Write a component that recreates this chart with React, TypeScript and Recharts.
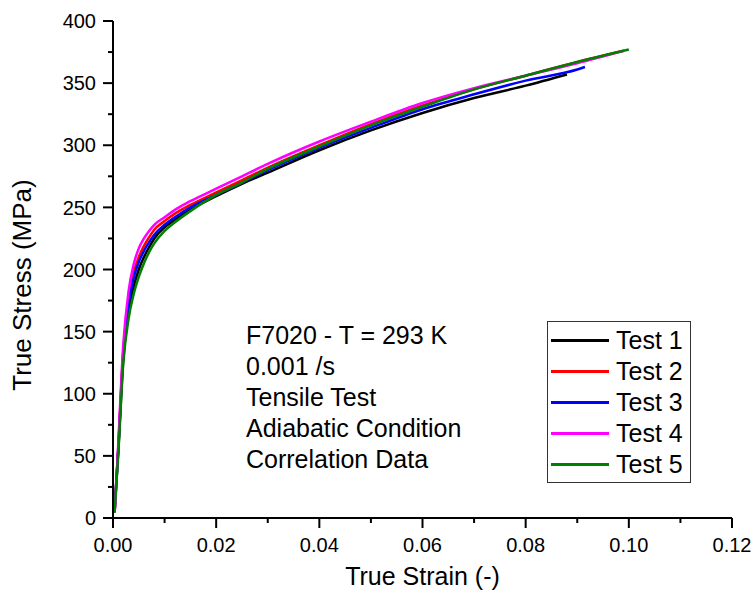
import React from "react";
import { LineChart, Line, XAxis, YAxis, Legend } from "recharts";

// strain / stress readings per test
const strain1 = [0.0003, 0.001, 0.002, 0.003, 0.004, 0.005, 0.006, 0.007, 0.008, 0.01, 0.012, 0.015, 0.02, 0.025, 0.03, 0.04, 0.05, 0.06, 0.07, 0.08, 0.088];
const stress1 = [5, 52, 128, 165, 186, 200, 210, 218, 225, 234, 240, 248, 259, 269, 278, 296, 312, 326, 338, 348, 357];

const strain2 = [0.0003, 0.001, 0.002, 0.003, 0.004, 0.005, 0.006, 0.007, 0.008, 0.01, 0.012, 0.015, 0.02, 0.025, 0.03, 0.04, 0.05, 0.06, 0.07, 0.08, 0.09, 0.099];
const stress2 = [6, 55, 135, 175, 197, 210, 219, 226, 232, 239, 245, 252, 262, 272, 282, 300, 317, 332, 345, 356, 367, 376];

const strain3 = [0.0003, 0.001, 0.002, 0.003, 0.004, 0.005, 0.006, 0.007, 0.008, 0.01, 0.012, 0.015, 0.02, 0.025, 0.03, 0.04, 0.05, 0.06, 0.07, 0.08, 0.09, 0.0915];
const stress3 = [5, 54, 132, 172, 193, 206, 215, 222, 228, 236, 242, 250, 260, 270, 280, 298, 314, 329, 341, 352, 361, 363];

const strain4 = [0.0004, 0.001, 0.002, 0.003, 0.004, 0.005, 0.006, 0.007, 0.008, 0.01, 0.012, 0.015, 0.02, 0.025, 0.03, 0.04, 0.05, 0.06, 0.07, 0.08, 0.09, 0.099];
const stress4 = [7, 58, 140, 182, 204, 217, 225, 231, 236, 242, 248, 255, 265, 275, 285, 303, 319, 334, 346, 356, 366, 376];

const strain5 = [0.0003, 0.001, 0.002, 0.003, 0.004, 0.005, 0.006, 0.007, 0.008, 0.01, 0.012, 0.015, 0.02, 0.025, 0.03, 0.04, 0.05, 0.06, 0.07, 0.08, 0.09, 0.1];
const stress5 = [4, 50, 125, 160, 180, 194, 205, 214, 221, 231, 238, 247, 260, 270, 281, 299, 316, 331, 345, 356, 367, 377];

const xTicks = [0, 0.01, 0.02, 0.03, 0.04, 0.05, 0.06, 0.07, 0.08, 0.09, 0.1, 0.11, 0.12];
const yTicks = [0, 25, 50, 75, 100, 125, 150, 175, 200, 225, 250, 275, 300, 325, 350, 375, 400];

const notes = ["F7020 - T = 293 K", "0.001 /s", "Tensile Test", "Adiabatic Condition", "Correlation Data"];

const toPoints = (xs: number[], ys: number[]) => xs.map((x, i) => ({ strain: x, stress: ys[i] }));

const series = [
  { name: "Test 1", color: "#000000", data: toPoints(strain1, stress1) },
  { name: "Test 2", color: "#ff0000", data: toPoints(strain2, stress2) },
  { name: "Test 3", color: "#0000ff", data: toPoints(strain3, stress3) },
  { name: "Test 4", color: "#ff00ff", data: toPoints(strain4, stress4) },
  { name: "Test 5", color: "#008000", data: toPoints(strain5, stress5) },
];

const FONT = '"Liberation Sans", Arial, sans-serif';

const XTick = (props: any) => {
  const { x, y, payload } = props;
  const v = payload.value;
  const major = Math.round(v * 100) % 2 === 0;
  return (
    <g>
      <line x1={x} y1={y} x2={x} y2={y + (major ? 10 : 5)} stroke="#000" strokeWidth={2} />
      {major && (
        <text x={x} y={y + 34} textAnchor="middle" fontSize={20} fontFamily={FONT} fill="#000">
          {v.toFixed(2)}
        </text>
      )}
    </g>
  );
};

const YTick = (props: any) => {
  const { x, y, payload } = props;
  const v = payload.value;
  const major = v % 50 === 0;
  return (
    <g>
      <line x1={x} y1={y} x2={x - (major ? 10 : 5)} y2={y} stroke="#000" strokeWidth={2} />
      {major && (
        <text x={x - 17} y={y} dy="0.36em" textAnchor="end" fontSize={20} fontFamily={FONT} fill="#000">
          {v}
        </text>
      )}
    </g>
  );
};

const LegendBox = (props: any) => {
  const items = props.payload || [];
  return (
    <div
      style={{
        width: 142,
        height: 157,
        border: "1px solid #333",
        background: "#fff",
        fontFamily: FONT,
        fontSize: 25,
        paddingTop: 3,
        boxSizing: "content-box",
      }}
    >
      {items.map((it: any) => (
        <div key={it.value} style={{ display: "flex", alignItems: "center", height: 31 }}>
          <div style={{ width: 58, height: 3, background: it.color, marginLeft: 3, marginRight: 7 }} />
          <span>{it.value}</span>
        </div>
      ))}
    </div>
  );
};

export default function App() {
  return (
    <div style={{ position: "absolute", left: 0, top: 0, width: 754, height: 596, background: "#fff" }}>
      <LineChart width={754} height={596} margin={{ top: 21, right: 22, bottom: 0, left: 0 }}>
        <XAxis
          xAxisId="b"
          type="number"
          dataKey="strain"
          domain={[0, 0.12]}
          ticks={xTicks}
          interval={0}
          tick={<XTick />}
          tickLine={false}
          tickSize={0}
          tickMargin={0}
          height={78}
          axisLine={{ stroke: "#000", strokeWidth: 2 }}
          allowDataOverflow
        />
        <XAxis
          xAxisId="t"
          orientation="top"
          type="number"
          domain={[0, 0.12]}
          tick={false}
          tickLine={false}
          height={0}
          axisLine={{ stroke: "#000", strokeWidth: 2 }}
        />
        <YAxis
          yAxisId="l"
          type="number"
          domain={[0, 400]}
          ticks={yTicks}
          interval={0}
          tick={<YTick />}
          tickLine={false}
          tickSize={0}
          tickMargin={0}
          width={113}
          axisLine={{ stroke: "#000", strokeWidth: 2 }}
          allowDataOverflow
        />
        <YAxis
          yAxisId="r"
          orientation="right"
          type="number"
          domain={[0, 400]}
          tick={false}
          tickLine={false}
          width={0}
          axisLine={{ stroke: "#000", strokeWidth: 2 }}
        />
        {series.map((s) => (
          <Line
            key={s.name}
            xAxisId="b"
            yAxisId="l"
            data={s.data}
            dataKey="stress"
            name={s.name}
            type="monotone"
            stroke={s.color}
            strokeWidth={2.5}
            dot={false}
            activeDot={false}
            isAnimationActive={false}
            legendType="line"
          />
        ))}
        <Legend
          layout="vertical"
          align="center"
          verticalAlign="middle"
          content={<LegendBox />}
          wrapperStyle={{ position: "absolute", left: 547, top: 321, width: "auto", height: "auto" }}
        />
      </LineChart>
      <div
        style={{
          position: "absolute",
          left: 246,
          top: 320,
          fontFamily: FONT,
          fontSize: 25,
          lineHeight: "31px",
          color: "#000",
          whiteSpace: "nowrap",
        }}
      >
        {notes.map((n) => (
          <div key={n}>{n}</div>
        ))}
      </div>
      <div
        style={{
          position: "absolute",
          left: 0,
          width: 845,
          top: 562,
          textAlign: "center",
          fontFamily: FONT,
          fontSize: 25,
          color: "#000",
        }}
      >
        True Strain (-)
      </div>
      <div
        style={{
          position: "absolute",
          left: 22,
          top: 285,
          transform: "translate(-50%, -50%) rotate(-90deg)",
          fontFamily: FONT,
          fontSize: 26,
          color: "#000",
          whiteSpace: "nowrap",
        }}
      >
        True Stress (MPa)
      </div>
    </div>
  );
}
